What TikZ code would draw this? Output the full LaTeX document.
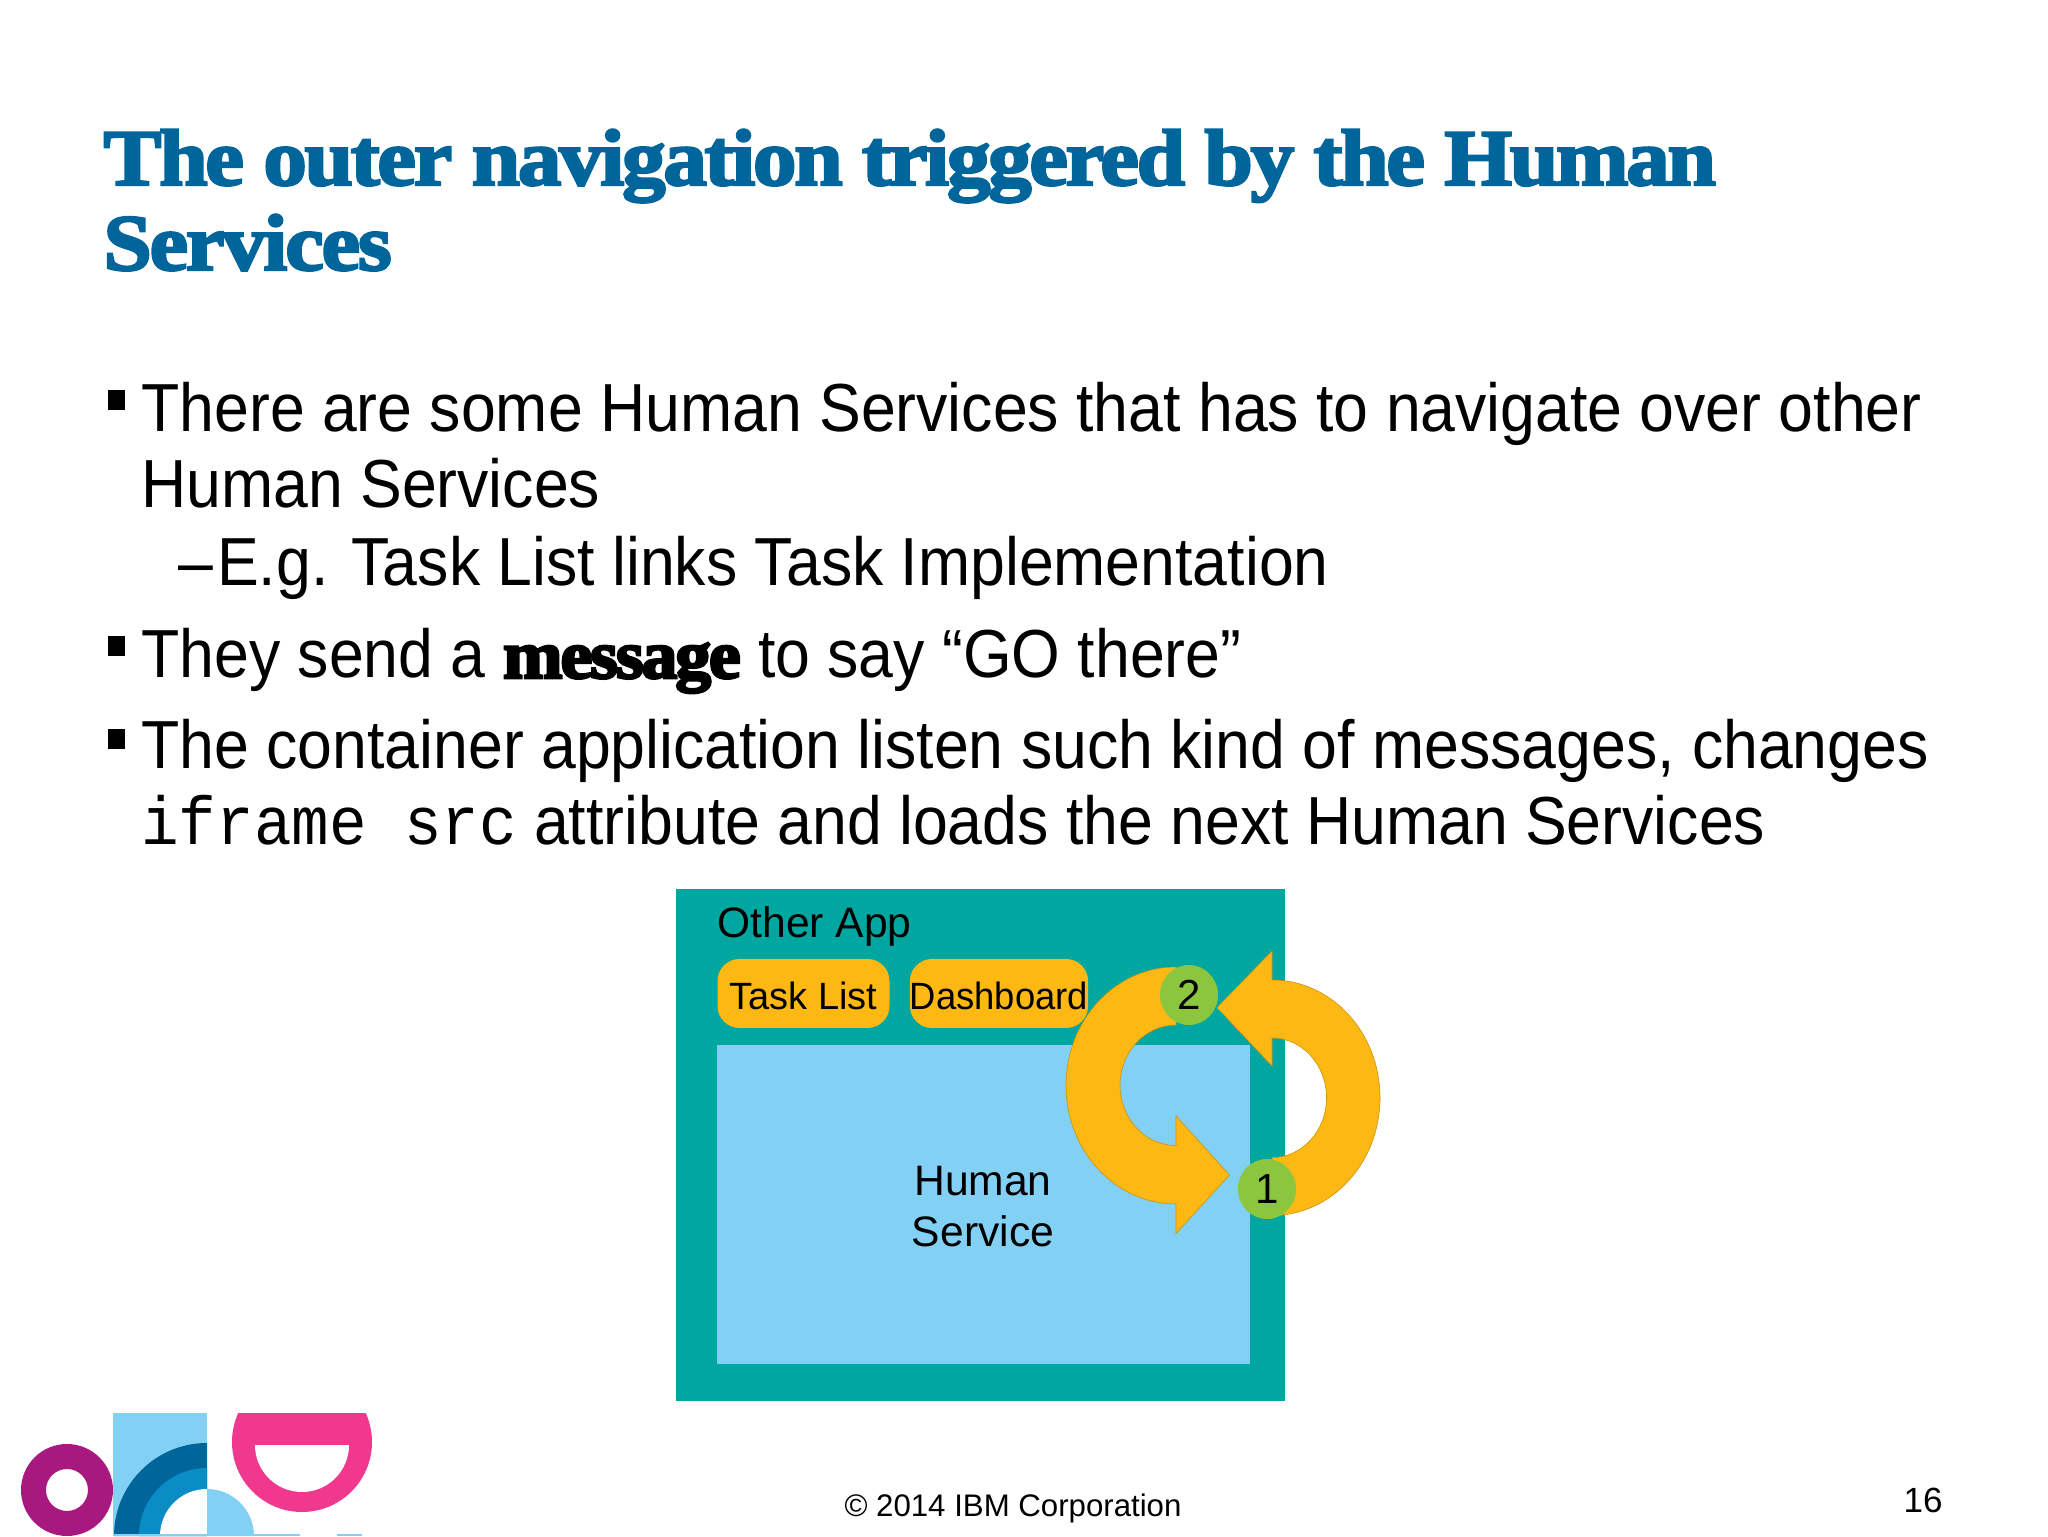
\documentclass[tikz,border=0pt]{standalone}
\usepackage{fontspec}
\setmainfont{Liberation Sans}
\newfontfamily\bodyfont[FakeStretch=0.92]{Liberation Sans}
\newfontfamily\codefont[FakeStretch=0.92]{Liberation Mono}
\newfontfamily\titlefont[UprightFont=* Bold,FakeBold=3,LetterSpace=-3,FakeStretch=1.09]{Liberation Serif}
\newfontfamily\msgfont[UprightFont=* Bold,FakeBold=4,LetterSpace=-3,FakeStretch=1.05]{Liberation Serif}
\definecolor{ibmteal}{HTML}{00A6A0}
\definecolor{ibmsky}{HTML}{82D1F5}
\definecolor{ibmgold}{HTML}{FDB813}
\definecolor{ibmgreen}{HTML}{8CC63F}
\definecolor{ibmblue}{HTML}{00659B}
\definecolor{ibmmid}{HTML}{0A8CC4}
\definecolor{ibmpurple}{HTML}{A7197F}
\definecolor{ibmpink}{HTML}{F0388F}
\tikzset{
  txt/.style={anchor=base west,inner sep=0pt,font=\fontsize{34}{38}\bodyfont},
  headline/.style={anchor=base west,inner sep=0pt,text=ibmblue,font=\fontsize{40}{44}\titlefont},
  tick/.style={fill=black,inner sep=0pt,minimum width=8.5pt,minimum height=10pt},
  btn/.style={fill=ibmgold,rounded corners=11pt,minimum width=86pt,minimum height=34.5pt,inner sep=0pt,
    text height=16pt,text depth=0pt,font=\fontsize{19}{22}\selectfont},
  badge/.style={ellipse,fill=ibmgreen,minimum width=29pt,minimum height=30pt,inner sep=0pt,font=\fontsize{21}{24}\selectfont},
  ring/.style={fill=ibmgold,draw=ibmgold!80!black,line width=0.3pt}
}
\usetikzlibrary{shapes.geometric}
\begin{document}
\begin{tikzpicture}[x=0.5pt,y=0.5pt]
  \useasboundingbox (0,0) rectangle (2048,1536);
  % title and text
  \node[headline] (title1) at (103,1351) {The outer navigation triggered by the Human};
  \node[headline] (title2) at (103,1266) {Services};
  \foreach \s/\y in {1/1136,2/890,3/797} {
    \node[tick] (tick\s) at (116.5,\y) {};
  }
  \node[txt] (line1) at (141,1104) {There are some Human Services that has to navigate over other};
  \node[txt] (line2) at (141,1028) {Human Services};
  \node[txt] (line3) at (178,950) {–\kern2pt E.g. Task List links Task Implementation};
  \node[txt] (line4) at (141,858) {They send a {\msgfont message} to say “GO there”};
  \node[txt] (line5) at (141,767) {The container application listen such kind of messages, changes};
  \node[txt] (line6) at (141,691) {{\codefont iframe src} attribute and loads the next Human Services};
  % the app
  \fill[ibmteal] (676,135) rectangle (1285,647);
  \fill[ibmsky] (717,172) rectangle (1250,491);
  \node[anchor=base west,inner sep=0pt,font=\fontsize{21.3}{25}\selectfont] (app) at (717,598) {Other App};
  \node[btn] (tasks) at (803.5,542.5) {Task List};
  \node[btn] (board) at (999,542.5) {\addfontfeature{FakeStretch=0.958}Dashboard};
  \node[align=center,inner sep=0pt,font=\fontsize{21.3}{25.5}\selectfont] (hs) at (983,329) {Human\\Service};
  % the two arrows
  \draw[ring] (1176,569) arc[start angle=90,end angle=270,x radius=110,y radius=118.5]
    -- (1176,302.5) -- (1229.5,361) -- (1176,420) -- (1176,390.5)
    arc[start angle=270,end angle=90,x radius=56,y radius=60.25] -- cycle;
  \draw[ring] (1272,320.5) arc[start angle=-90,end angle=90,x radius=108,y radius=117.75]
    -- (1272,585) -- (1217,528.4) -- (1272,470) -- (1272,498)
    arc[start angle=90,end angle=-90,x radius=54.5,y radius=59.8] -- cycle;
  \node[badge] (two) at (1189,541) {2};
  \node[badge] (one) at (1267,347) {1};
  % logo
  \begin{scope}
    \clip (0,0) rectangle (400,123);
    \fill[ibmpurple,even odd rule] (67,46) circle (46) (67,46) circle (21);
    \fill[ibmsky] (113,0) rectangle (207,123);
    \fill[ibmblue] (207,0) -- (114,0) arc[start angle=180,end angle=90,radius=93] -- cycle;
    \fill[ibmmid] (207,0) -- (139,0) arc[start angle=180,end angle=90,radius=68] -- cycle;
    \fill[white] (207,0) -- (160,0) arc[start angle=180,end angle=90,radius=47] -- cycle;
    \fill[ibmsky] (207,0) -- (254,0) arc[start angle=0,end angle=90,radius=47] -- cycle;
    \fill[ibmpink] (302,94) circle (70);
    \fill[white] (255,91) arc[start angle=180,end angle=360,radius=47] -- cycle;
    \fill[ibmsky] (113,0) rectangle (300,2);
    \fill[ibmsky] (337,0) rectangle (362,2);
  \end{scope}
  % footer
  \node[anchor=base,inner sep=0pt,font=\fontsize{15.6}{18}\selectfont] (copy) at (1013,20) {© 2014 IBM Corporation};
  \node[anchor=base east,inner sep=0pt,font=\fontsize{17.5}{20}\selectfont] (page) at (1943,24) {16};
\end{tikzpicture}
\end{document}
